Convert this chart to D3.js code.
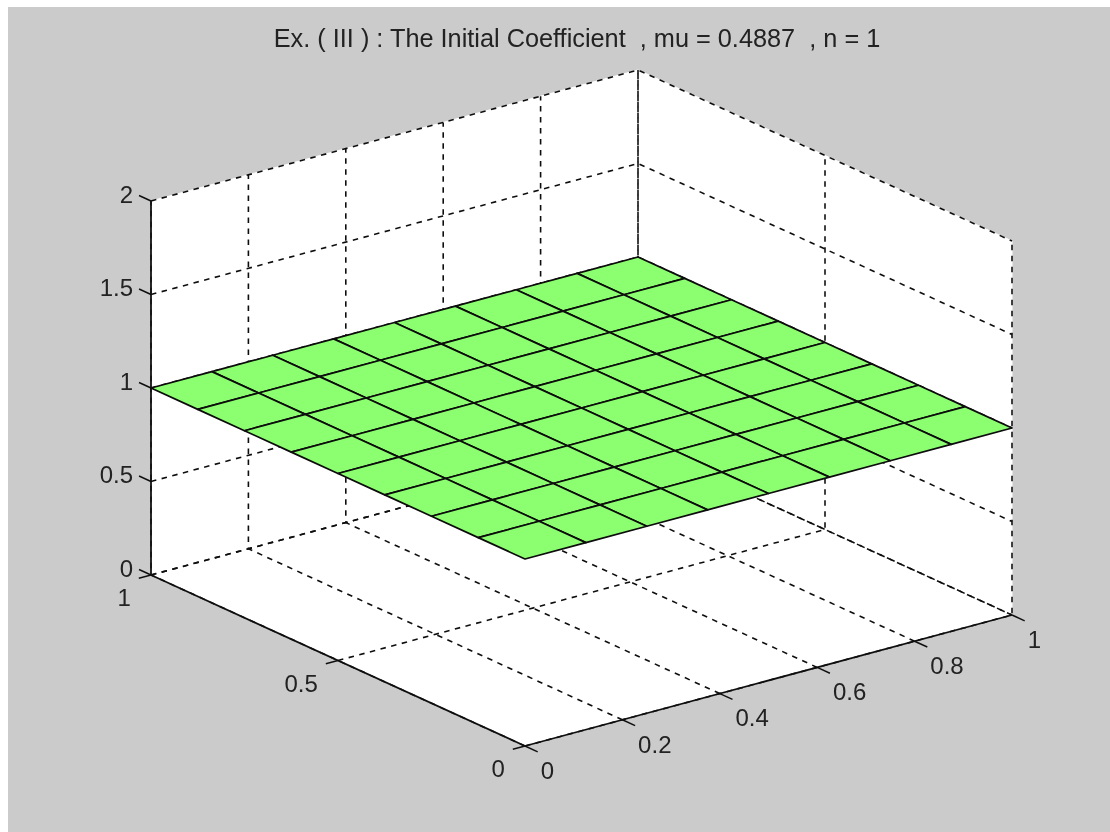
<!DOCTYPE html>
<html>
<head>
<meta charset="utf-8">
<script src="https://cdn.jsdelivr.net/npm/d3@7"></script>
<style>
  html, body { margin: 0; padding: 0; background: #fff; }
  svg { display: block; }
  text { font-family: "Liberation Sans", Arial, sans-serif; fill: #222; white-space: pre; }
</style>
</head>
<body>
<div id="chart"></div>
<script>
var titleText = "Ex. ( III ) : The Initial Coefficient  , mu = 0.4887  , n = 1";

// surface mesh, nine by nine nodes, coefficient is 1 everywhere
var meshX = [0, 0.125, 0.25, 0.375, 0.5, 0.625, 0.75, 0.875, 1];
var meshY = [0, 0.125, 0.25, 0.375, 0.5, 0.625, 0.75, 0.875, 1];
var meshZ = [
	[1, 1, 1, 1, 1, 1, 1, 1, 1],
	[1, 1, 1, 1, 1, 1, 1, 1, 1],
	[1, 1, 1, 1, 1, 1, 1, 1, 1],
	[1, 1, 1, 1, 1, 1, 1, 1, 1],
	[1, 1, 1, 1, 1, 1, 1, 1, 1],
	[1, 1, 1, 1, 1, 1, 1, 1, 1],
	[1, 1, 1, 1, 1, 1, 1, 1, 1],
	[1, 1, 1, 1, 1, 1, 1, 1, 1],
	[1, 1, 1, 1, 1, 1, 1, 1, 1]
];

var xTicks = [0, 0.2, 0.4, 0.6, 0.8, 1];
var yTicks = [0, 0.5, 1];
var zTicks = [0, 0.5, 1, 1.5, 2];

var width = 1110, height = 832;

// the axes are an orthographic view, each data axis adds its own screen shift
var xToPx = d3.scaleLinear().domain([0, 1]).range([0, 487]);
var xToPy = d3.scaleLinear().domain([0, 1]).range([0, -131]);
var yToPx = d3.scaleLinear().domain([0, 1]).range([0, -374]);
var yToPy = d3.scaleLinear().domain([0, 1]).range([0, -171]);
var zToPy = d3.scaleLinear().domain([0, 2]).range([0, -374]);

function project(x, y, z) {
	return [525 + xToPx(x) + yToPx(y), 746 + xToPy(x) + yToPy(y) + zToPy(z)];
}

var line3d = d3.line()
	.x(function (d) { return project(d[0], d[1], d[2])[0]; })
	.y(function (d) { return project(d[0], d[1], d[2])[1]; });

var svg = d3.select("#chart").append("svg")
	.attr("width", width)
	.attr("height", height);

// the source is a slightly soft screenshot
svg.append("filter")
	.attr("id", "soft")
	.attr("x", 0).attr("y", 0).attr("width", 1).attr("height", 1)
	.append("feGaussianBlur")
	.attr("stdDeviation", 0.4);

var root = svg.append("g").attr("filter", "url(#soft)");

root.append("rect")
	.attr("x", 8)
	.attr("y", 7)
	.attr("width", width - 8)
	.attr("height", height - 7)
	.attr("fill", "#cbcbcb");

// white back walls and floor
var walls = [
	[[0, 0, 0], [1, 0, 0], [1, 1, 0], [0, 1, 0]],
	[[0, 1, 0], [1, 1, 0], [1, 1, 2], [0, 1, 2]],
	[[1, 0, 0], [1, 1, 0], [1, 1, 2], [1, 0, 2]]
];
root.append("g").selectAll("path")
	.data(walls)
	.enter().append("path")
	.attr("d", function (d) { return line3d(d) + "Z"; })
	.attr("fill", "#fff")
	.attr("stroke", "#fff");

// dashed grid
var gridLines = [];
xTicks.forEach(function (x) {
	gridLines.push([[x, 0, 0], [x, 1, 0], [x, 1, 2]]);
});
yTicks.forEach(function (y) {
	gridLines.push([[0, y, 0], [1, y, 0], [1, y, 2]]);
});
zTicks.forEach(function (z) {
	gridLines.push([[0, 1, z], [1, 1, z], [1, 0, z]]);
});
root.append("g").selectAll("path")
	.data(gridLines)
	.enter().append("path")
	.attr("d", line3d)
	.attr("fill", "none")
	.attr("stroke", "#111")
	.attr("stroke-width", 1.6)
	.attr("stroke-dasharray", "5.5 5.5");

// surface, far patches first
var patches = [];
d3.range(meshY.length - 1).reverse().forEach(function (j) {
	d3.range(meshX.length - 1).reverse().forEach(function (i) {
		patches.push([
			[meshX[i], meshY[j], meshZ[j][i]],
			[meshX[i + 1], meshY[j], meshZ[j][i + 1]],
			[meshX[i + 1], meshY[j + 1], meshZ[j + 1][i + 1]],
			[meshX[i], meshY[j + 1], meshZ[j + 1][i]]
		]);
	});
});
root.append("g").selectAll("path")
	.data(patches)
	.enter().append("path")
	.attr("d", function (d) { return line3d(d) + "Z"; })
	.attr("fill", "#8cff70")
	.attr("stroke", "#0b0b0b")
	.attr("stroke-width", 1.7)
	.attr("stroke-linejoin", "round");

// solid axes
var axisLines = [
	[[0, 0, 0], [1, 0, 0]],
	[[0, 0, 0], [0, 1, 0]],
	[[0, 1, 0], [0, 1, 2]]
];
root.append("g").selectAll("path")
	.data(axisLines)
	.enter().append("path")
	.attr("d", line3d)
	.attr("fill", "none")
	.attr("stroke", "#111")
	.attr("stroke-width", 1.8);

// tick marks stick out of the box along the other floor axis
var xTickLen = 0.034, yTickLen = 0.025, zTickLen = 0.032;
var tickLines = [];
xTicks.forEach(function (x) { tickLines.push([[x, 0, 0], [x, -xTickLen, 0]]); });
yTicks.forEach(function (y) { tickLines.push([[0, y, 0], [-yTickLen, y, 0]]); });
zTicks.forEach(function (z) { tickLines.push([[0, 1, z], [0, 1 + zTickLen, z]]); });
root.append("g").selectAll("path")
	.data(tickLines)
	.enter().append("path")
	.attr("d", line3d)
	.attr("fill", "none")
	.attr("stroke", "#111")
	.attr("stroke-width", 1.5);

// labels
var labels = root.append("g").attr("font-size", 24);

labels.selectAll(".x-label")
	.data(xTicks)
	.enter().append("text")
	.attr("class", "x-label")
	.attr("x", function (d) { return project(d, -xTickLen, 0)[0] + 3; })
	.attr("y", function (d) { return project(d, -xTickLen, 0)[1] + 27; })
	.attr("text-anchor", "start")
	.text(function (d) { return d; });

labels.selectAll(".y-label")
	.data(yTicks)
	.enter().append("text")
	.attr("class", "y-label")
	.attr("x", function (d) { return project(-yTickLen, d, 0)[0] - 8; })
	.attr("y", function (d) { return project(-yTickLen, d, 0)[1] + 28; })
	.attr("text-anchor", "end")
	.text(function (d) { return d; });

labels.selectAll(".z-label")
	.data(zTicks)
	.enter().append("text")
	.attr("class", "z-label")
	.attr("x", function (d) { return project(0, 1 + zTickLen, d)[0] - 6; })
	.attr("y", function (d) { return project(0, 1 + zTickLen, d)[1] + 7; })
	.attr("text-anchor", "end")
	.text(function (d) { return d; });

root.append("text")
	.attr("x", 577)
	.attr("y", 47)
	.attr("text-anchor", "middle")
	.attr("font-size", 25.3)
	.text(titleText);
</script>
</body>
</html>
